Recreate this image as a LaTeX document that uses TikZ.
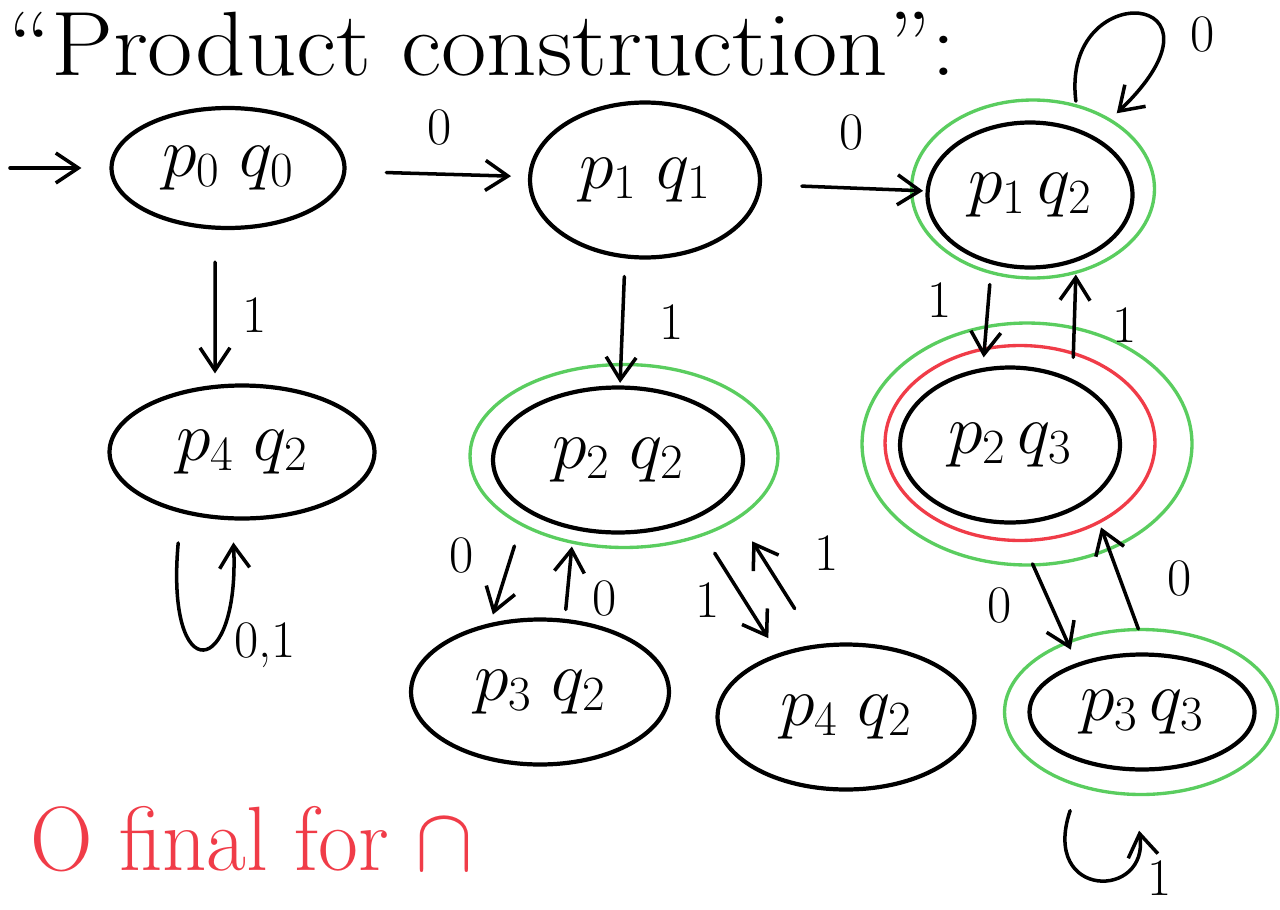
\RequirePackage{fix-cm}
\documentclass[tikz,border=0pt]{standalone}
\usetikzlibrary{shapes.geometric,arrows.meta}
\definecolor{grn}{RGB}{90,205,95}
\definecolor{rd}{RGB}{240,60,72}
\begin{document}
\begin{tikzpicture}[x=0.02cm,y=-0.02cm,
  st/.style={ellipse,draw=black,line width=2.4pt,inner sep=0pt,font=\fontsize{40}{48}\selectfont},
  ring/.style={ellipse,draw=grn,line width=1.9pt,inner sep=0pt},
  redring/.style={ellipse,draw=rd,line width=1.9pt,inner sep=0pt},
  arr/.style={line width=2pt,line cap=round,-{Straight Barb[length=4.5mm,width=6mm,line width=2pt]}},
  lbl/.style={font=\fontsize{30}{36}\selectfont,inner sep=0pt}]
\useasboundingbox (0,0) rectangle (1280,909);

% title
\node[font=\fontsize{52}{60}\selectfont,anchor=base west,inner sep=0pt] (title) at (8,75) {\scalebox{1.08}[1]{``Product construction'':}};

% rings (final states)
\node[ring,minimum width=4.86cm,minimum height=3.56cm] (p12g) at (1033,189) {};
\node[ring,minimum width=6.16cm,minimum height=3.66cm] (p22g) at (624,456) {};
\node[ring,minimum width=6.6cm,minimum height=4.84cm] (p23g) at (1027,444) {};
\node[redring,minimum width=5.4cm,minimum height=3.9cm] (p23r) at (1020,443) {};
\node[ring,minimum width=5.46cm,minimum height=3.3cm] (p33g) at (1141,712) {};

% states
\node[st,minimum width=4.66cm,minimum height=2.4cm] (p00) at (228,168) {$p_0\;q_0$};
\node[st,minimum width=4.6cm,minimum height=3.1cm] (p11) at (645,180) {$p_1\;q_1$};
\node[st,minimum width=4.1cm,minimum height=2.9cm] (p12) at (1030,195) {$p_1\,q_2$};
\node[st,minimum width=5.3cm,minimum height=2.66cm] (p42) at (242,452) {$p_4\;q_2$};
\node[st,minimum width=5.0cm,minimum height=2.9cm] (p22) at (618,460) {$p_2\;q_2$};
\node[st,minimum width=4.4cm,minimum height=3.1cm] (p23) at (1010,445) {$p_2\,q_3$};
\node[st,minimum width=5.16cm,minimum height=2.9cm] (p32) at (540,692) {$p_3\;q_2$};
\node[st,minimum width=5.14cm,minimum height=2.9cm] (p4b) at (846,717) {$p_4\;q_2$};
\node[st,minimum width=4.5cm,minimum height=2.3cm] (p33) at (1142,712) {$p_3\,q_3$};

% initial arrow
\coordinate (init) at (10,168);
\draw[arr,shorten >=0.56cm] (init) -- (p00);

% transitions
\draw[arr,shorten <=0.8cm,shorten >=0.34cm] (p00) -- (p11);
\node[lbl] (l1) at (440,128) {0};
\draw[arr,shorten <=0.8cm,shorten >=0.05cm] (p11) -- (p12);
\node[lbl] (l2) at (852,133) {0};

\draw[arr,shorten <=0.64cm,shorten >=0.2cm] ([xshift=-0.26cm]p00.south) -- ([xshift=-0.54cm]p42.north);
\node[lbl] (l3) at (255,315) {1};

\draw[arr,shorten <=0.34cm,shorten >=0.05cm] ([xshift=-0.4cm]p11.south) -- ([xshift=0.04cm]p22.north);
\node[lbl] (l4) at (672,322) {1};

\draw[arr,shorten <=0.3cm,shorten >=0.16cm] ([xshift=-0.78cm]p12.south) -- ([xshift=-0.54cm]p23.north);
\node[lbl] (l5) at (940,300) {1};
\draw[arr,shorten <=0.16cm,shorten >=0.1cm] ([xshift=1.26cm]p23.north) -- ([xshift=0.92cm]p12.south);
\node[lbl] (l6) at (1125,325) {1};

\draw[arr,shorten <=0.24cm,shorten >=0.06cm] ([xshift=-2.0cm]p22.south) -- ([xshift=-0.96cm]p32.north);
\node[lbl] (l7) at (462,555) {0};
\draw[arr,shorten <=0.16cm,shorten >=0.24cm] ([xshift=0.5cm]p32.north) -- ([xshift=-0.9cm]p22.south);
\node[lbl] (l8) at (605,598) {0};

\draw[arr,shorten <=0.44cm,shorten >=0.1cm] ([xshift=1.7cm]p22.south) -- ([xshift=-1.5cm]p4b.north);
\node[lbl] (l9) at (708,600) {1};
\draw[arr,shorten <=0.8cm,shorten >=0.16cm] ([xshift=-0.6cm]p4b.north) -- ([xshift=2.6cm]p22.south);
\node[lbl] (l10) at (827,553) {1};

\draw[arr,shorten <=0.86cm,shorten >=0.06cm] ([xshift=0.1cm]p23.south) -- ([xshift=-1.4cm]p33.north);
\node[lbl] (l11) at (1000,605) {0};
\draw[arr,shorten <=0.5cm,shorten >=0.06cm] ([xshift=0.1cm]p33.north) -- ([xshift=1.8cm]p23.south);
\node[lbl] (l12) at (1180,578) {0};

% self-loops
\draw[arr,shorten <=0.06cm,shorten >=0.16cm] (p12g.63) .. controls (1060,-25) and (1245,-10) .. (p12g.42);
\node[lbl] (l13) at (1203,35) {0};

\draw[arr,shorten <=0.6cm,shorten >=0.44cm] (p42.225) .. controls (165,690) and (240,680) .. (p42.262);
\node[lbl] (l14) at (265,645) {0,1};

\draw[arr,shorten <=0.5cm,shorten >=0.7cm] (p33g.230) .. controls (1040,900) and (1150,900) .. (p33g.265);
\node[lbl] (l15) at (1160,878) {1};

% note
\node[font=\fontsize{52}{60}\selectfont,text=rd,anchor=base west,inner sep=0pt] (note) at (30,870) {\scalebox{0.95}[1]{O final for $\cap$}};
\end{tikzpicture}
\end{document}
